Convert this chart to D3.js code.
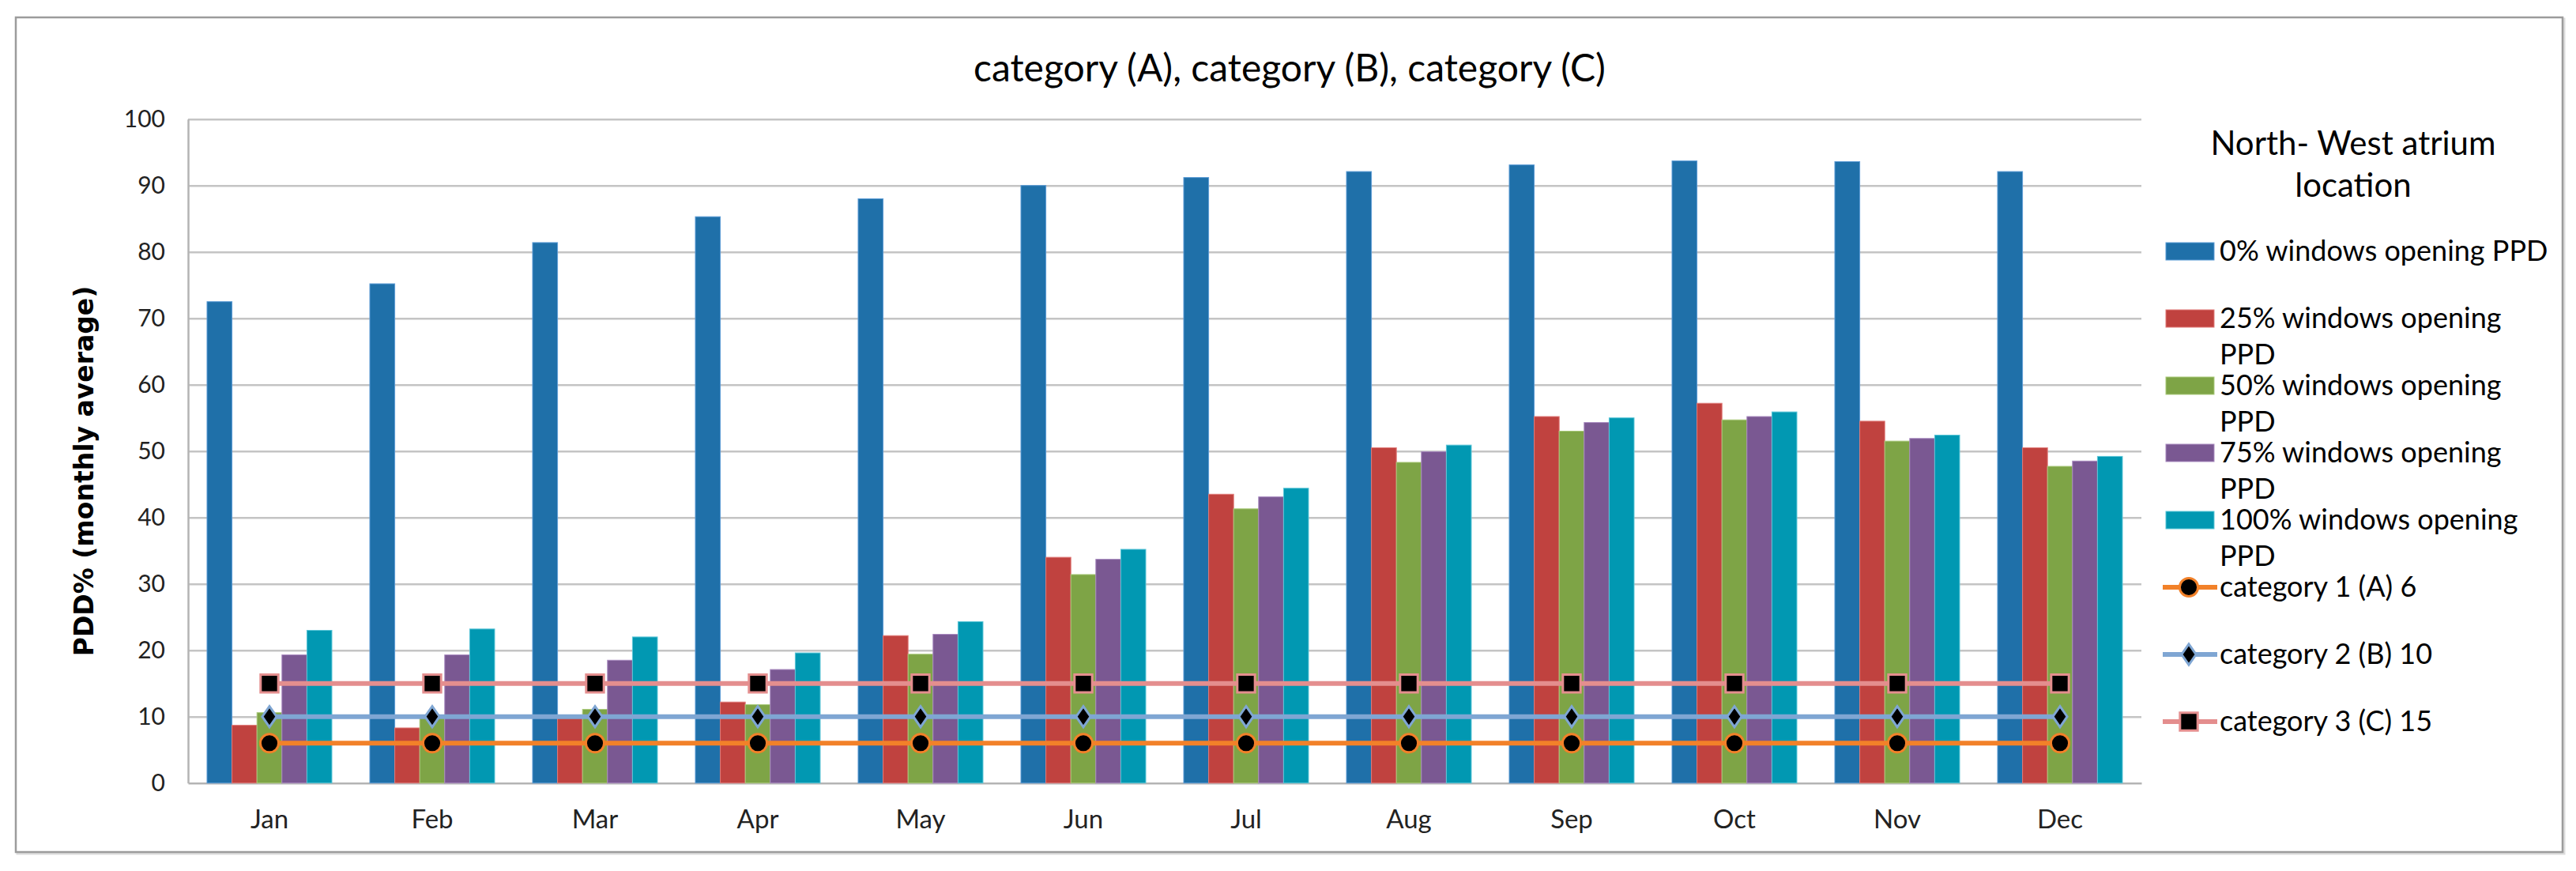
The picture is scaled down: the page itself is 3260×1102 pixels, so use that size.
<!DOCTYPE html>
<html>
<head>
<meta charset="utf-8">
<script src="https://cdn.jsdelivr.net/npm/d3@7/dist/d3.min.js"></script>
<style>
  body { margin: 0; background: #fff; }
  svg text { font-family: Lato, "Open Sans", sans-serif; fill: #000; }
</style>
</head>
<body>
<script>
// values
const months = ["Jan", "Feb", "Mar", "Apr", "May", "Jun", "Jul", "Aug", "Sep", "Oct", "Nov", "Dec"];
const ppd0 = [72.5, 75.2, 81.4, 85.3, 88.0, 90.0, 91.2, 92.1, 93.1, 93.7, 93.6, 92.1];
const ppd25 = [8.7, 8.3, 9.8, 12.2, 22.2, 34.0, 43.5, 50.5, 55.2, 57.2, 54.5, 50.5];
const ppd50 = [10.6, 10.2, 11.1, 11.8, 19.4, 31.4, 41.3, 48.3, 53.0, 54.7, 51.5, 47.7];
const ppd75 = [19.3, 19.3, 18.5, 17.1, 22.4, 33.7, 43.1, 49.9, 54.3, 55.2, 51.9, 48.5];
const ppd100 = [23.0, 23.2, 22.0, 19.6, 24.3, 35.2, 44.4, 50.9, 55.0, 55.9, 52.4, 49.2];
const catA = [6, 6, 6, 6, 6, 6, 6, 6, 6, 6, 6, 6];
const catB = [10, 10, 10, 10, 10, 10, 10, 10, 10, 10, 10, 10];
const catC = [15, 15, 15, 15, 15, 15, 15, 15, 15, 15, 15, 15];
const yTicks = [0, 10, 20, 30, 40, 50, 60, 70, 80, 90, 100];

const chartTitle = "category (A), category (B), category (C)";
const yTitle = "PDD% (monthly average)";
const legendTitle = ["North- West atrium", "location"];

const barSeries = [
  { key: "p0", values: ppd0, color: "#1f70a9", edge: "#5b9bd5", label: ["0% windows opening PPD"] },
  { key: "p25", values: ppd25, color: "#c0423f", edge: "#e07a78", label: ["25% windows opening", "PPD"] },
  { key: "p50", values: ppd50, color: "#7ea446", edge: "#a9c97a", label: ["50% windows opening", "PPD"] },
  { key: "p75", values: ppd75, color: "#7a5892", edge: "#a98bc0", label: ["75% windows opening", "PPD"] },
  { key: "p100", values: ppd100, color: "#0198b2", edge: "#5cc6d8", label: ["100% windows opening", "PPD"] }
];

// custom tall diamond, closer to the spreadsheet marker than d3.symbolDiamond
const tallDiamond = {
  draw(context, size) {
    const h = Math.sqrt(size);
    const w = h * 0.4;
    context.moveTo(0, -h / 2 * 1.15);
    context.lineTo(w, 0);
    context.lineTo(0, h / 2 * 1.15);
    context.lineTo(-w, 0);
    context.closePath();
  }
};

const lineSeries = [
  { key: "cA", values: catA, color: "#f28129", symbol: d3.symbolCircle, size: 420, label: "category 1 (A) 6" },
  { key: "cB", values: catB, color: "#7fa6d3", symbol: tallDiamond, size: 520, label: "category 2 (B) 10" },
  { key: "cC", values: catC, color: "#e48e8e", symbol: d3.symbolSquare, size: 500, label: "category 3 (C) 15" }
];

const width = 3260;
const height = 1102;
const plot = { left: 238, right: 2710, top: 150.7, bottom: 990.7 };

const svg = d3.select("body").append("svg")
  .attr("width", width)
  .attr("height", height);

svg.append("rect")
  .attr("width", width)
  .attr("height", height)
  .attr("fill", "#fff");

// outer chart frame with a faint shadow
svg.append("rect")
  .attr("x", 22).attr("y", 24)
  .attr("width", 3223).attr("height", 1056)
  .attr("fill", "none")
  .attr("stroke", "#dcdcdc")
  .attr("stroke-width", 3);
svg.append("rect")
  .attr("x", 20).attr("y", 22)
  .attr("width", 3223).attr("height", 1056)
  .attr("fill", "#fff")
  .attr("stroke", "#9c9c9c")
  .attr("stroke-width", 2.5);

const x = d3.scaleBand()
  .domain(months)
  .range([plot.left, plot.right])
  .paddingInner(0.233)
  .paddingOuter(0.1165);

const xs = d3.scaleBand()
  .domain(barSeries.map((s) => s.key))
  .range([0, x.bandwidth()]);

const y = d3.scaleLinear()
  .domain([0, 100])
  .range([plot.bottom, plot.top]);

// gridlines
const grid = svg.append("g")
  .attr("transform", "translate(" + plot.left + ",0)")
  .call(d3.axisLeft(y).tickValues(yTicks.filter((t) => t > 0)).tickSize(-(plot.right - plot.left)).tickFormat(""));
grid.select(".domain").remove();
grid.selectAll("line").attr("stroke", "#c4c4c4").attr("stroke-width", 2.5);

// y axis
const yAxis = svg.append("g")
  .attr("transform", "translate(" + plot.left + ",0)")
  .call(d3.axisLeft(y).tickValues(yTicks).tickSize(0).tickPadding(29));
yAxis.select(".domain").attr("stroke", "#b4b4b4").attr("stroke-width", 2.5);
yAxis.selectAll("text")
  .attr("font-size", 30)
  .style("fill", "#222");

// x axis
const xAxis = svg.append("g")
  .attr("transform", "translate(0," + plot.bottom + ")")
  .call(d3.axisBottom(x).tickSize(0).tickPadding(34));
xAxis.select(".domain").attr("stroke", "#b4b4b4").attr("stroke-width", 2.5);
xAxis.selectAll("text")
  .attr("font-size", 33)
  .style("fill", "#222");

// bars
const groups = svg.append("g").selectAll("g")
  .data(barSeries)
  .join("g")
  .attr("fill", (s) => s.color);

groups.selectAll("rect")
  .data((s) => s.values.map((v, i) => ({ key: s.key, month: months[i], value: v, edge: s.edge })))
  .join("rect")
  .attr("x", (d) => x(d.month) + xs(d.key))
  .attr("width", xs.bandwidth())
  .attr("y", (d) => y(d.value))
  .attr("height", (d) => y(0) - y(d.value))
  .attr("stroke", (d) => d.edge)
  .attr("stroke-width", 1);

// category lines with markers
const line = d3.line()
  .x((d, i) => x(months[i]) + x.bandwidth() / 2)
  .y((d) => y(d));

const lines = svg.append("g").selectAll("g")
  .data(lineSeries)
  .join("g");

lines.append("path")
  .attr("d", (s) => line(s.values))
  .attr("fill", "none")
  .attr("stroke", (s) => s.color)
  .attr("stroke-width", 6);

lines.selectAll(".marker")
  .data((s) => s.values.map((v, i) => ({ s: s, month: months[i], value: v })))
  .join("path")
  .attr("class", "marker")
  .attr("transform", (d) => "translate(" + (x(d.month) + x.bandwidth() / 2) + "," + y(d.value) + ")")
  .attr("d", (d) => d3.symbol(d.s.symbol, d.s.size)())
  .attr("fill", "#000")
  .attr("stroke", (d) => d.s.color)
  .attr("stroke-width", 3);

// titles
svg.append("text")
  .attr("x", 1632)
  .attr("y", 103)
  .attr("text-anchor", "middle")
  .attr("font-size", 48)
  .text(chartTitle);

svg.append("text")
  .attr("transform", "translate(106,596) rotate(-90)")
  .attr("text-anchor", "middle")
  .attr("dominant-baseline", "central")
  .attr("font-size", 33)
  .attr("font-weight", "bold")
  .style("font-family", "'DejaVu Sans', sans-serif")
  .text(yTitle);

// legend
const legend = svg.append("g");

legend.selectAll(".ltitle")
  .data(legendTitle)
  .join("text")
  .attr("class", "ltitle")
  .attr("x", 2978)
  .attr("y", (d, i) => 196 + i * 53)
  .attr("text-anchor", "middle")
  .attr("font-size", 42)
  .text((d) => d);

const legendY = d3.scaleLinear().domain([0, 7]).range([318, 913]);

const barItems = legend.selectAll(".bitem")
  .data(barSeries)
  .join("g")
  .attr("class", "bitem")
  .attr("transform", (d, i) => "translate(0," + legendY(i) + ")");

barItems.append("rect")
  .attr("x", 2741)
  .attr("y", -11)
  .attr("width", 61)
  .attr("height", 22)
  .attr("fill", (d) => d.color)
  .attr("stroke", (d) => d.edge)
  .attr("stroke-width", 1);

barItems.append("text")
  .attr("font-size", 36)
  .selectAll("tspan")
  .data((d) => d.label)
  .join("tspan")
  .attr("x", 2809)
  .attr("y", (d, i) => 12 + i * 46)
  .text((d) => d);

const lineItems = legend.selectAll(".litem")
  .data(lineSeries)
  .join("g")
  .attr("class", "litem")
  .attr("transform", (d, i) => "translate(0," + legendY(i + barSeries.length) + ")");

lineItems.append("line")
  .attr("x1", 2737)
  .attr("x2", 2806)
  .attr("stroke", (d) => d.color)
  .attr("stroke-width", 6);

lineItems.append("path")
  .attr("transform", "translate(2770,0)")
  .attr("d", (d) => d3.symbol(d.symbol, d.size)())
  .attr("fill", "#000")
  .attr("stroke", (d) => d.color)
  .attr("stroke-width", 3);

lineItems.append("text")
  .attr("x", 2809)
  .attr("y", 12)
  .attr("font-size", 36)
  .text((d) => d.label);
</script>
</body>
</html>
